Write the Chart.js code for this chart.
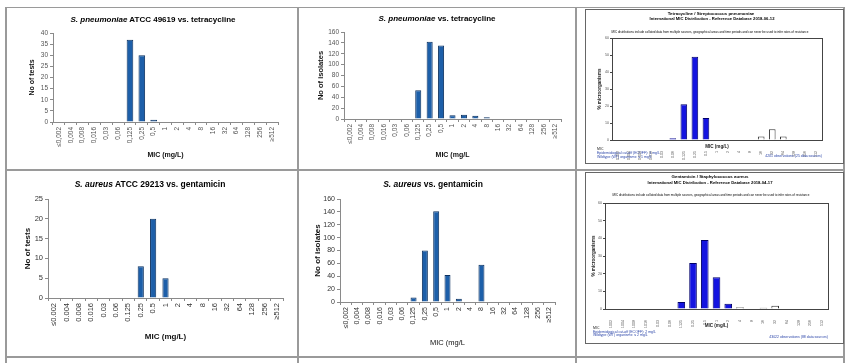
<!DOCTYPE html>
<html>
<head>
<meta charset="utf-8">
<script src="https://cdn.jsdelivr.net/npm/chart.js@4.4.1/dist/chart.umd.min.js"></script>
<style>
  html, body { margin: 0; padding: 0; background: #fff; }
  body { width: 850px; height: 363px; position: relative; overflow: hidden; font-family: "Liberation Sans", Arial, sans-serif; }
  canvas { position: absolute; }
  .ln { position: absolute; background: #9a9a9a; }
  .frame { position: absolute; border: 1px solid #666; box-sizing: border-box; }
  .t { position: absolute; white-space: nowrap; transform: translate(-50%, -50%); line-height: 1; color: #000; }
  .tl { position: absolute; white-space: nowrap; transform: translateY(-50%); line-height: 1; }
  .tr { position: absolute; white-space: nowrap; transform: translate(-100%, -50%); line-height: 1; }
</style>
</head>
<body>

<!-- table grid -->
<div class="ln" style="left:5px;top:7px;width:840px;height:1px"></div>
<div class="ln" style="left:5px;top:169px;width:840px;height:2px"></div>
<div class="ln" style="left:5px;top:356px;width:840px;height:2px"></div>
<div class="ln" style="left:5px;top:7px;width:2px;height:356px"></div>
<div class="ln" style="left:297px;top:7px;width:2px;height:356px"></div>
<div class="ln" style="left:575px;top:7px;width:2px;height:356px"></div>
<div class="ln" style="left:843px;top:7px;width:2px;height:356px"></div>

<!-- eucast picture frames -->
<div class="frame" style="left:585px;top:9px;width:259px;height:155px"></div>
<div class="frame" style="left:585px;top:172px;width:259px;height:172px"></div>

<canvas id="c1" width="292" height="162" style="left:6px;top:8px"></canvas>
<canvas id="c2" width="277" height="162" style="left:299px;top:8px"></canvas>
<canvas id="c3" width="258" height="154" style="left:586px;top:9px"></canvas>
<canvas id="c4" width="292" height="186" style="left:6px;top:171px"></canvas>
<canvas id="c5" width="277" height="186" style="left:299px;top:171px"></canvas>
<canvas id="c6" width="258" height="171" style="left:586px;top:172px"></canvas>

<!-- panel titles -->
<div class="t" style="left:153px;top:20px;font-size:8px;font-weight:bold"><i>S. pneumoniae</i> ATCC 49619 vs. tetracycline</div>
<div class="t" style="left:437px;top:19px;font-size:8px;font-weight:bold"><i>S. pneumoniae</i> vs. tetracycline</div>
<div class="t" style="left:150px;top:184px;font-size:8.5px;font-weight:bold"><i>S. aureus</i> ATCC 29213 vs. gentamicin</div>
<div class="t" style="left:433px;top:184px;font-size:8.5px;font-weight:bold"><i>S. aureus</i> vs. gentamicin</div>

<!-- eucast texts, top -->
<div class="t" style="left:711px;top:14px;font-size:4.4px;font-weight:bold">Tetracycline / Streptococcus pneumoniae</div>
<div class="t" style="left:712px;top:19px;font-size:4.2px;font-weight:bold">International MIC Distribution - Reference Database 2018-06-12</div>
<div class="t" style="left:710px;top:32px;font-size:3px">MIC distributions include collated data from multiple sources, geographical areas and time periods and can never be used to infer rates of resistance</div>
<div class="tl" style="left:597px;top:150px;font-size:3.5px;color:#222">MIC</div>
<div class="tl" style="left:597px;top:154px;font-size:3.5px;color:#2a44a8">Epidemiological cut-off (ECOFF): 1 mg/L</div>
<div class="tl" style="left:597px;top:157.5px;font-size:3.5px;color:#2a44a8">Wildtype (WT) organisms: &le; 1 mg/L</div>
<div class="tr" style="left:822px;top:157px;font-size:3.5px;color:#2a44a8">4201 observations (25 data sources)</div>

<!-- eucast texts, bottom -->
<div class="t" style="left:710px;top:177px;font-size:4.4px;font-weight:bold">Gentamicin / Staphylococcus aureus</div>
<div class="t" style="left:710px;top:183px;font-size:4.2px;font-weight:bold">International MIC Distribution - Reference Database 2018-04-17</div>
<div class="t" style="left:711px;top:195px;font-size:3px">MIC distributions include collated data from multiple sources, geographical areas and time periods and can never be used to infer rates of resistance</div>
<div class="tl" style="left:593px;top:329px;font-size:3.5px;color:#222">MIC</div>
<div class="tl" style="left:593px;top:332.5px;font-size:3.5px;color:#2a44a8">Epidemiological cut-off (ECOFF): 2 mg/L</div>
<div class="tl" style="left:593px;top:336px;font-size:3.5px;color:#2a44a8">Wildtype (WT) organisms: &le; 2 mg/L</div>
<div class="tr" style="left:828px;top:338px;font-size:3.5px;color:#2a44a8">43022 observations (88 data sources)</div>

<script>
// MIC categories
const micComma = ['≤0,002', '0,004', '0,008', '0,016', '0,03', '0,06', '0,125', '0,25', '0,5',
  '1', '2', '4', '8', '16', '32', '64', '128', '256', '≥512']
const micDot = ['≤0.002', '0.004', '0.008', '0.016', '0.03', '0.06', '0.125', '0.25', '0.5',
  '1', '2', '4', '8', '16', '32', '64', '128', '256', '≥512']
const micEucast = ['0.002', '0.004', '0.008', '0.016', '0.03', '0.06', '0.125', '0.25', '0.5',
  '1', '2', '4', '8', '16', '32', '64', '128', '256', '512']

// counts
const pneuAtccTests = [0, 0, 0, 0, 0, 0, 37, 30, 1, 0, 0, 0, 0, 0, 0, 0, 0, 0, 0]
const pneuIsolates  = [0, 0, 0, 0, 0, 0, 53, 142, 135, 7, 8, 6, 3, 0, 0, 0, 0, 0, 0]
const aureusAtccTests = [0, 0, 0, 0, 0, 0, 0, 8, 20, 5, 0, 0, 0, 0, 0, 0, 0, 0, 0]
const aureusIsolates  = [0, 0, 0, 0, 0, 0, 7, 80, 141, 42, 5, 0, 58, 0, 0, 0, 0, 0, 0]

// EUCAST % microorganisms
const tetraPct = [0, 0, 0, 0, 0, 1.1, 21, 49, 13, 0, 0, 0, 0, 2, 6.3, 2, 0, 0, 0]
const gentaPct = [0, 0, 0, 0, 0, 0, 4, 26, 39, 18, 3, 1, 0, 0.7, 1.8, 0, 0, 0, 0]
const tetraEcoff = '1'
const gentaEcoff = '2'

const FONT = '"Liberation Sans", Arial, sans-serif'

const framePlugin = {
  id: 'frame',
  afterDraw (chart) {
    const { ctx, chartArea: a } = chart
    ctx.save()
    ctx.strokeStyle = '#444'
    ctx.lineWidth = 1
    ctx.strokeRect(Math.round(a.left) + 0.5, Math.round(a.top) + 0.5, Math.round(a.right - a.left), Math.round(a.bottom - a.top))
    ctx.restore()
  }
}

function countChart (id, c) {
  return new Chart(document.getElementById(id), {
    type: 'bar',
    data: {
      labels: c.labels,
      datasets: [{
        data: c.values,
        backgroundColor: '#1d5fa9',
        borderColor: '#0c3160',
        borderWidth: 1,
        borderSkipped: 'bottom',
        barPercentage: c.bar,
        categoryPercentage: 1
      }]
    },
    options: {
      responsive: false,
      animation: false,
      layout: { padding: c.pad },
      plugins: { legend: { display: false }, tooltip: { enabled: false } },
      scales: {
        x: {
          grid: { drawOnChartArea: false, tickLength: 3, color: '#8a8a8a' },
          border: { color: '#8a8a8a' },
          ticks: { autoSkip: false, minRotation: 90, maxRotation: 90, padding: 2, color: c.tickColor,
            font: { family: FONT, size: c.tickSize } },
          title: { display: true, text: c.xTitle, padding: 0, color: '#111',
            font: { family: FONT, size: c.xTitleSize, weight: c.xTitleWeight } },
          afterFit: s => { s.height = c.xh }
        },
        y: {
          min: 0, max: c.max,
          grid: { drawOnChartArea: false, tickLength: 3, color: '#8a8a8a' },
          border: { color: '#8a8a8a' },
          ticks: { stepSize: c.step, padding: 2, color: c.tickColor, font: { family: FONT, size: c.tickSize } },
          title: { display: true, text: c.yTitle, padding: 0, color: '#111',
            font: { family: FONT, size: c.yTitleSize, weight: 'bold' } },
          afterFit: s => { s.width = c.yw }
        }
      }
    }
  })
}

function eucastChart (id, c) {
  const cut = c.labels.indexOf(c.ecoff)
  return new Chart(document.getElementById(id), {
    type: 'bar',
    data: {
      labels: c.labels,
      datasets: [{
        data: c.values,
        backgroundColor: c.values.map((v, i) => i <= cut ? '#1414e0' : '#ffffff'),
        borderColor: c.values.map((v, i) => i <= cut ? '#00006a' : '#333333'),
        borderWidth: 1,
        barPercentage: c.bar,
        categoryPercentage: 1
      }]
    },
    options: {
      responsive: false,
      animation: false,
      layout: { padding: c.pad },
      plugins: { legend: { display: false }, tooltip: { enabled: false } },
      scales: {
        x: {
          grid: { display: false },
          border: { display: false },
          ticks: { autoSkip: false, minRotation: 90, maxRotation: 90, padding: 3, color: '#555',
            font: { family: FONT, size: 3.6 } },
          // title sits over the label column, as in the EUCAST export
          title: { display: true, text: 'MIC (mg/L)', padding: { top: 0, bottom: c.titleLift }, color: '#222',
            font: { family: FONT, size: 4.6, weight: 'bold' } },
          afterFit: s => { s.height = c.xh }
        },
        y: {
          min: 0, max: 60,
          grid: { drawOnChartArea: false, tickLength: 2, color: '#444' },
          border: { display: false },
          ticks: { stepSize: 10, padding: 1, color: '#555', font: { family: FONT, size: 3.6 } },
          title: { display: true, text: '% microorganisms', padding: 0, color: '#222',
            font: { family: FONT, size: 4.6, weight: 'bold' } },
          afterFit: s => { s.width = c.yw }
        }
      }
    },
    plugins: [framePlugin]
  })
}

countChart('c1', {
  labels: micComma, values: pneuAtccTests, max: 40, step: 5, bar: 0.56,
  xTitle: 'MIC (mg/L)', yTitle: 'No of tests', xTitleSize: 7, xTitleWeight: 'bold', yTitleSize: 7,
  tickSize: 6.5, tickColor: '#555',
  pad: { left: 22, right: 20, top: 25, bottom: 11 }, yw: 25, xh: 37
})
countChart('c2', {
  labels: micComma, values: pneuIsolates, max: 160, step: 20, bar: 0.53,
  xTitle: 'MIC (mg/L', yTitle: 'No of isolates', xTitleSize: 7, xTitleWeight: 'bold', yTitleSize: 7.5,
  tickSize: 6.5, tickColor: '#555',
  pad: { left: 17, right: 15, top: 24, bottom: 11 }, yw: 28, xh: 40
})
countChart('c4', {
  labels: micDot, values: aureusAtccTests, max: 25, step: 5, bar: 0.5,
  xTitle: 'MIC (mg/L)', yTitle: 'No of tests', xTitleSize: 8, xTitleWeight: 'bold', yTitleSize: 8,
  tickSize: 7.5, tickColor: '#333',
  pad: { left: 17, right: 15, top: 28, bottom: 15 }, yw: 25, xh: 44
})
countChart('c5', {
  labels: micComma, values: aureusIsolates, max: 160, step: 20, bar: 0.53,
  xTitle: 'MIC (mg/L', yTitle: 'No of isolates', xTitleSize: 7.5, xTitleWeight: 'normal', yTitleSize: 8,
  tickSize: 7, tickColor: '#333',
  pad: { left: 14, right: 21, top: 28, bottom: 10 }, yw: 27, xh: 45
})
eucastChart('c3', {
  labels: micEucast, values: tetraPct, ecoff: tetraEcoff, bar: 0.6,
  pad: { left: 11, right: 22, top: 29, bottom: 3 }, yw: 15, xh: 20, titleLift: 11
})
eucastChart('c6', {
  labels: micEucast, values: gentaPct, ecoff: gentaEcoff, bar: 0.65,
  pad: { left: 5, right: 16, top: 31, bottom: 15 }, yw: 14, xh: 19, titleLift: 0
})
</script>
</body>
</html>
